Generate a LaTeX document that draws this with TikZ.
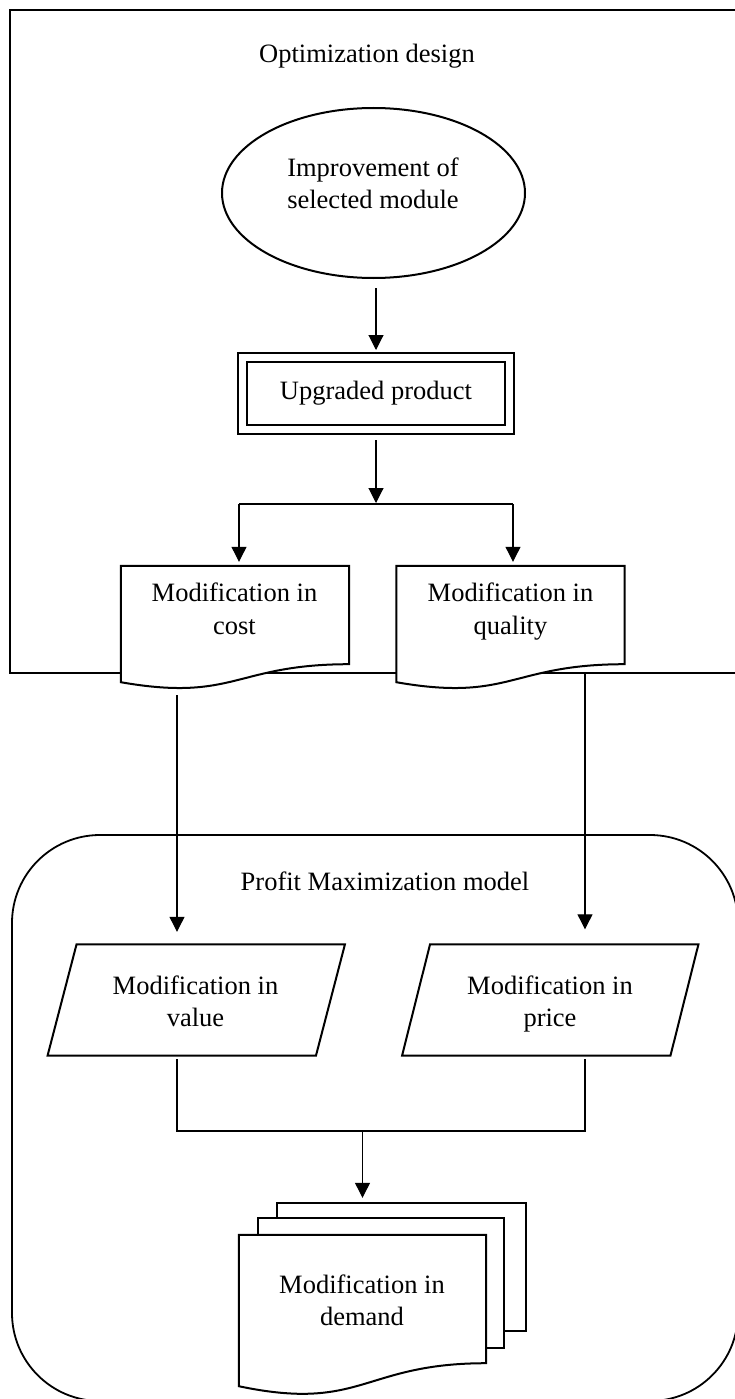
\documentclass[tikz,border=0pt]{standalone}
\usepackage{fontspec}
\setmainfont{Liberation Serif}
\usetikzlibrary{arrows.meta,calc,shapes.geometric}
\newcommand\mydocoutline[3]{\draw[shp, fill=white] (#1.north west) -- (#1.north east) -- (#1.south east) .. controls (#1.south) and ([shift={(0,#3)}]#1.south) .. ([shift={(0,#2)}]#1.south west) -- cycle;}
\newcommand\myparaoutline[2]{\draw[shp] ([shift={(#2,0)}]#1.north west) -- ([shift={(#2,0)}]#1.north east) -- ([shift={(-#2,0)}]#1.south east) -- ([shift={(-#2,0)}]#1.south west) -- cycle;}
\begin{document}
\begin{tikzpicture}[x=1pt,y=-1pt,
  txt/.style={font=\fontsize{26.5}{32.5}\selectfont, align=center, inner sep=0pt},
  shp/.style={line width=2pt, line join=miter},
  arr/.style={line width=1.1pt, -{Triangle[width=15pt,length=15pt]}},
  con/.style={line width=1.1pt},
  docbox/.style={rectangle, inner sep=0pt, minimum width=228pt, minimum height=98pt},
  parbox/.style={rectangle, inner sep=0pt, minimum width=268pt, minimum height=111pt},
]
\useasboundingbox (0,0) rectangle (734,1399);
\fill[white] (0,0) rectangle (734,1399);

% containers
\draw[line width=2.2pt] (10,10) rectangle (760,673);
\draw[line width=1.8pt, rounded corners=88pt] (12,835) rectangle (738,1401);
\node[txt] (t1) at (367,56) {\strut Optimization design};
\node[txt] (t2) at (385,884) {\strut Profit Maximization model};

% ellipse
\node[ellipse, draw, shp, minimum width=303pt, minimum height=170pt, inner sep=0pt] (ell) at (373.5,193) {};
\node[txt] (ellt) at (373,186) {\strut Improvement of\\selected module\strut};

% upgraded product
\node[draw, shp, inner sep=0pt, minimum width=276pt, minimum height=81pt] (up) at (376,393.5) {};
\draw[shp] ([shift={(10,10)}]up.north west) rectangle ([shift={(-10,-10)}]up.south east);
\node[txt] (upt) at (376,393) {\strut Upgraded product};

\draw[arr, shorten <=9pt, shorten >=2pt] (ell.south -| up.north) -- (up.north);

% documents
\node[docbox] (cost) at (235,615) {};
\node[docbox] (qual) at (510.5,615) {};
\mydocoutline{cost}{18}{38}
\mydocoutline{qual}{18}{38}
\node[txt] (costt) at (234.5,611.5) {\strut Modification in\\cost\strut};
\node[txt] (qualt) at (510.5,611.5) {\strut Modification in\\quality\strut};

\coordinate (sp) at (376,504);
\coordinate (spL) at (239,504);
\coordinate (spR) at (513,504);
\draw[arr, shorten <=5pt, shorten >=1pt] (up.south) -- (sp);
\draw[con] (spL) -- (spR);
\draw[arr, shorten >=4pt] (spL) -- (spL |- cost.north);
\draw[arr, shorten >=4pt] (spR) -- (spR |- qual.north);

% parallelograms
\node[parbox] (val) at (196.25,1000) {};
\node[parbox] (price) at (550.25,1000) {};
\myparaoutline{val}{14.5}
\myparaoutline{price}{14}
\node[txt] (valt) at (195.5,1004) {\strut Modification in\\value\strut};
\node[txt] (pricet) at (550,1004) {\strut Modification in\\price\strut};

\coordinate (a1) at (177,695);
\coordinate (a2) at (585,673);
\draw[arr, shorten >=12.5pt] (a1) -- (a1 |- val.north);
\draw[arr, shorten >=15pt] (a2) -- (a2 |- price.north);

% demand
\node[rectangle, inner sep=0pt, minimum width=247pt, minimum height=128pt] (dem) at (362.5,1299) {};
\draw[shp] ([shift={(38,-17)}]dem.north west) -- ([shift={(38,-32)}]dem.north west) -- ([shift={(40,-32)}]dem.north east) -- ([shift={(40,-32)}]dem.south east) -- ([shift={(18,-32)}]dem.south east);
\draw[shp] ([shift={(19,0)}]dem.north west) -- ([shift={(19,-17)}]dem.north west) -- ([shift={(18,-17)}]dem.north east) -- ([shift={(18,-15)}]dem.south east) -- ([shift={(0,-15)}]dem.south east);
\mydocoutline{dem}{23}{49}
\node[txt] (demt) at (362,1303) {\strut Modification in\\demand\strut};

\coordinate (c1) at (177,1059);
\coordinate (c2) at (585,1059);
\coordinate (b1) at (177,1131);
\coordinate (b2) at (585,1131);
\coordinate (bm) at (362.5,1131);
\draw[con] (c1) -- (b1) -- (b2) -- (c2);
\draw[arr] (bm) -- ([shift={(0,-37)}]dem.north);
\end{tikzpicture}
\end{document}
